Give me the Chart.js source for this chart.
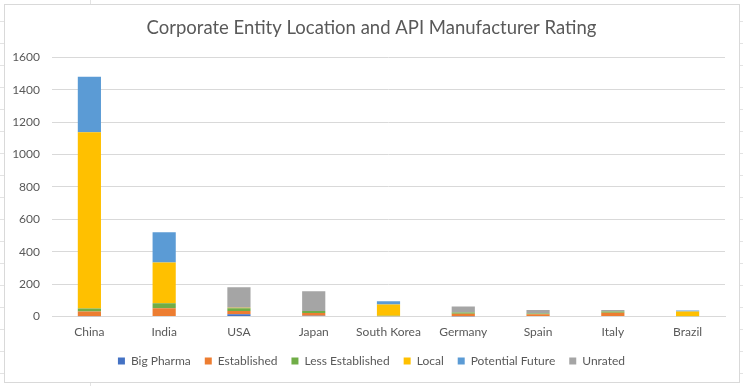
<!DOCTYPE html>
<html>
<head>
<meta charset="utf-8">
<script src="https://cdn.jsdelivr.net/npm/chart.js@4/dist/chart.umd.min.js"></script>
<style>
  html, body { margin: 0; padding: 0; }
  body {
    width: 743px; height: 386px; position: relative; overflow: hidden;
    background: #fff;
  }
  #sheet {
    position: absolute; left: 0; top: 0; width: 743px; height: 386px;
    background-image:
      repeating-linear-gradient(to bottom, transparent 0, transparent 21px, #e3e3e3 21px, #e3e3e3 22px);
  }
  #vline { position: absolute; left: 90px; top: 0; width: 1px; height: 386px; background: #e3e3e3; }
  #box {
    position: absolute; left: 4px; top: 4px; width: 734px; height: 377px;
    border: 1px solid #d9d9d9; background: #fff;
  }
  #wrap { position: absolute; left: 0; top: 0; width: 743px; height: 386px; }
</style>
</head>
<body>
<div id="sheet"></div>
<div id="vline"></div>
<div id="box"></div>
<div id="wrap"><canvas id="c" width="743" height="386"></canvas></div>
<script>
const categories = ["China", "India", "USA", "Japan", "South Korea", "Germany", "Spain", "Italy", "Brazil"];
const bigPharma       = [2, 3, 15, 6, 0, 1, 0, 0, 0];
const established     = [30, 48, 20, 16, 2, 16, 14, 24, 0];
const lessEstablished = [18, 31, 17, 12, 4, 8, 5, 8, 2];
const local           = [1087, 251, 2, 0, 68, 0, 0, 0, 29];
const potentialFuture = [343, 187, 0, 0, 21, 0, 0, 0, 6];
const unrated         = [0, 0, 127, 122, 0, 37, 22, 9, 0];
const yTicks = [0, 200, 400, 600, 800, 1000, 1200, 1400, 1600];

const seriesNames = ["Big Pharma", "Established", "Less Established", "Local", "Potential Future", "Unrated"];
const seriesData = [bigPharma, established, lessEstablished, local, potentialFuture, unrated];
const seriesColors = ["#4472C4", "#ED7D31", "#70AD47", "#FFC000", "#5B9BD5", "#A5A5A5"];

const FONT = "Lato, 'Open Sans', sans-serif";

new Chart(document.getElementById("c"), {
  type: "bar",
  data: {
    labels: categories,
    datasets: seriesNames.map((n, i) => ({
      label: n,
      data: seriesData[i],
      backgroundColor: seriesColors[i],
      borderWidth: 0,
      barPercentage: 0.62,
      categoryPercentage: 0.5
    }))
  },
  options: {
    responsive: false,
    animation: false,
    devicePixelRatio: 1,
    layout: { padding: { left: 11, right: 11, top: 0, bottom: 9 } },
    plugins: {
      title: {
        display: true,
        text: "Corporate Entity Location and API Manufacturer Rating",
        color: "#595959",
        font: { family: FONT, size: 18.5, weight: "normal" },
        padding: { top: 17, bottom: 18 }
      },
      legend: {
        position: "bottom",
        labels: {
          color: "#595959",
          font: { family: FONT, size: 12 },
          boxWidth: 7, boxHeight: 7,
          padding: 8,
          generateLabels: (chart) => {
            const items = Chart.defaults.plugins.legend.labels.generateLabels(chart);
            return items.map((it, i) => {
              if (i < items.length - 1) it.text = it.text + "\u2002";
              return it;
            });
          }
        }
      },
      tooltip: { enabled: false }
    },
    scales: {
      x: {
        stacked: true,
        grid: { display: false, drawTicks: false },
        border: { display: true, color: "#d9d9d9" },
        ticks: { color: "#595959", font: { family: FONT, size: 12 }, padding: 8 }
      },
      y: {
        stacked: true,
        min: 0, max: 1600,
        afterBuildTicks: (axis) => { axis.ticks = yTicks.map(v => ({ value: v })); },
        afterFit: (axis) => { axis.width = 41; },
        grid: { color: "#d9d9d9", drawTicks: false },
        border: { display: false },
        ticks: {
          color: "#595959", font: { family: FONT, size: 12 }, padding: 12,
          callback: (v) => String(v)
        }
      },
      yRight: {
        position: "right",
        display: true,
        afterFit: (axis) => { axis.width = 7; },
        grid: { display: false, drawTicks: false },
        border: { display: false },
        ticks: { display: false }
      }
    }
  }
});
</script>
</body>
</html>
